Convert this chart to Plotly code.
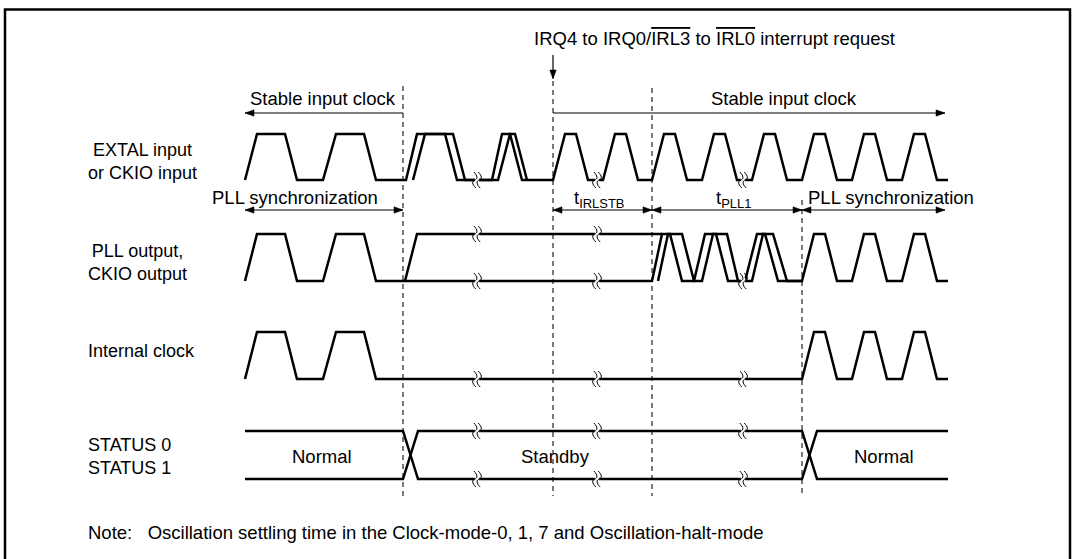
import plotly.graph_objects as go

# ---------------- data (time axis in diagram units, levels 0=low 1=high) ----------------
EXTAL_A_T = [245, 257, 285, 297, 323, 336, 364, 376, 406, 417, 445, 457, 492, 502, 510, 522,
             553, 565, 576, 588, 603, 615, 626, 638, 652, 664, 675, 687, 702, 714, 725, 737,
             752, 764, 775, 787, 802, 814, 825, 837, 852, 864, 875, 887, 902, 914, 925, 937, 948]
EXTAL_A_L = [0, 1, 1, 0, 0, 1, 1, 0, 0, 1, 1, 0, 0, 1, 1, 0,
             0, 1, 1, 0, 0, 1, 1, 0, 0, 1, 1, 0, 0, 1, 1, 0,
             0, 1, 1, 0, 0, 1, 1, 0, 0, 1, 1, 0, 0, 1, 1, 0, 0]
EXTAL_B_T = [413, 425, 453, 465, 498, 510, 515, 527]
EXTAL_B_L = [0, 1, 1, 0, 0, 1, 1, 0]

PLL_A_T = [245, 257, 285, 297, 323, 336, 364, 376, 652, 662, 670, 682, 694, 705, 716, 728,
           745, 757, 765, 778, 802, 814, 825, 837, 852, 864, 875, 887, 902, 914, 925, 937, 948]
PLL_A_L = [0, 1, 1, 0, 0, 1, 1, 0, 0, 1, 1, 0, 0, 1, 1, 0,
           0, 1, 1, 0, 0, 1, 1, 0, 0, 1, 1, 0, 0, 1, 1, 0, 0]
PLL_HOLD_T = [405, 417, 662]
PLL_HOLD_L = [0, 1, 1]
PLL_B_T = [658, 668, 682, 694, 702, 713, 727, 738, 752, 763, 773, 787, 802]
PLL_B_L = [0, 1, 1, 0, 0, 1, 1, 0, 0, 1, 1, 0, 0]

INT_T = [245, 257, 285, 297, 323, 336, 364, 376, 802, 814, 825, 837, 852, 864, 875, 887,
         902, 914, 925, 937, 948]
INT_L = [0, 1, 1, 0, 0, 1, 1, 0, 0, 1, 1, 0, 0, 1, 1, 0, 0, 1, 1, 0, 0]

STATUS_T = [245, 403, 418, 802, 817, 948]
STATUS0_L = [1, 1, 0, 0, 1, 1]
STATUS1_L = [0, 0, 1, 1, 0, 0]
STATUS_NAMES = ["Normal", "Standby", "Normal"]
STATUS_NAME_T = [322, 555, 884]

BREAK_T = [477, 597, 743]
EXTAL_BREAK_L = [[0], [0], [0]]
PLL_BREAK_L = [[0, 1], [0, 1], [0]]
INT_BREAK_L = [[0], [0], [0]]
STATUS_BREAK_L = [[0, 1], [0, 1], [0, 1]]

MARK_T = [403, 553, 652, 802]

# dimension arrows: (start, end, label, label position)
TOP_SPANS = [(403, 245, "Stable input clock", 323), (553, 945, "Stable input clock", 784)]
MID_SPANS = [(245, 403, "PLL synchronization", 295),
             (553, 652, "t<sub>IRLSTB</sub>", 599),
             (652, 802, "t<sub>PLL1</sub>", 733),
             (802, 945, "PLL synchronization", 891)]

ROW_LABELS = ["EXTAL input<br>or CKIO input", "PLL output,<br>CKIO output",
              "Internal clock", "STATUS 0<br>STATUS 1"]
IRQ_LABEL = ("IRQ4 to IRQ0/<span style=\"text-decoration:overline\">IRL3</span> to "
             "<span style=\"text-decoration:overline\">IRL0</span> interrupt request")
NOTE = "Note:\u00a0\u00a0\u00a0Oscillation settling time in the Clock-mode-0, 1, 7 and Oscillation-halt-mode"

# ---------------- layout (pixel geometry) ----------------
W, H = 1075, 559
ROWS = {"extal": (180, 134), "pll": (281, 234), "int": (379, 332), "status": (479, 431)}
ROW_LABEL_Y = [161, 262, 351, 456]
LABEL_X = 86
FONT = "Liberation Sans, Arial, sans-serif"
FS = 18.5
LW = 2.5
INK = "black"


def ys(row, levels):
    lo, hi = ROWS[row]
    return [lo - l * (lo - hi) for l in levels]


fig = go.Figure()


def wave(t, lv, row):
    fig.add_trace(go.Scatter(x=t, y=ys(row, lv), mode="lines",
                             line=dict(color=INK, width=LW), hoverinfo="skip"))


wave(EXTAL_A_T, EXTAL_A_L, "extal")
wave(EXTAL_B_T, EXTAL_B_L, "extal")
wave(PLL_A_T, PLL_A_L, "pll")
wave(PLL_HOLD_T, PLL_HOLD_L, "pll")
wave(PLL_B_T, PLL_B_L, "pll")
wave(INT_T, INT_L, "int")
wave(STATUS_T, STATUS0_L, "status")
wave(STATUS_T, STATUS1_L, "status")

shapes = []
annos = []

# frame
shapes.append(dict(type="rect", xref="x", yref="y", x0=5, y0=9.5, x1=1070, y1=600,
                   line=dict(color=INK, width=2.5), fillcolor="rgba(0,0,0,0)", layer="below"))

# dashed markers
MARK_TOP = [86, 81, 88, 200]
for t, top in zip(MARK_T, MARK_TOP):
    shapes.append(dict(type="line", xref="x", yref="y", x0=t, x1=t, y0=top, y1=496,
                       line=dict(color="#222", width=1.2, dash="5px,4px"), layer="below"))


# breaks
def add_break(x, y):
    c1, c2 = x - 2.2, x + 2.2
    shapes.append(dict(type="rect", xref="x", yref="y", x0=c1, x1=c2, y0=y - 3, y1=y + 3,
                       fillcolor="white", line=dict(width=0), layer="above"))
    for c in (c1, c2):
        p = f"M {c-1},{y-8} C {c+3},{y-4} {c+3},{y-1} {c},{y} C {c-3},{y+1} {c-3},{y+4} {c+1},{y+8}"
        shapes.append(dict(type="path", xref="x", yref="y", path=p,
                           line=dict(color=INK, width=1), layer="above"))


for row, bl in (("extal", EXTAL_BREAK_L), ("pll", PLL_BREAK_L),
                ("int", INT_BREAK_L), ("status", STATUS_BREAK_L)):
    for t, levels in zip(BREAK_T, bl):
        for l in levels:
            add_break(t, ys(row, [l])[0])


# arrows
def head(x, y, d, horizontal=True):
    if horizontal:
        p = f"M {x},{y} L {x-d*9},{y-3.2} L {x-d*9},{y+3.2} Z"
    else:
        p = f"M {x},{y} L {x-3.2},{y-d*9} L {x+3.2},{y-d*9} Z"
    shapes.append(dict(type="path", xref="x", yref="y", path=p, fillcolor=INK,
                       line=dict(color=INK, width=0.5), layer="above"))


def text(x, y, s, anchor="center", size=FS):
    annos.append(dict(x=x, y=y, xref="x", yref="y", text=s, showarrow=False,
                      xanchor=anchor, yanchor="middle",
                      font=dict(family=FONT, size=size, color=INK)))


for a, b, lab, lx in TOP_SPANS:
    y = 113
    shapes.append(dict(type="line", xref="x", yref="y", x0=a, x1=b, y0=y, y1=y,
                       line=dict(color=INK, width=1.2)))
    head(b, y, 1 if b > a else -1)
    text(lx, 98, lab)

for a, b, lab, lx in MID_SPANS:
    y = 210
    shapes.append(dict(type="line", xref="x", yref="y", x0=a, x1=b, y0=y, y1=y,
                       line=dict(color=INK, width=1.2)))
    head(b, y, 1)
    head(a, y, -1)
    text(lx, 197 if "sub" not in lab else 199, lab)

# interrupt request arrow
shapes.append(dict(type="line", xref="x", yref="y", x0=MARK_T[1], x1=MARK_T[1], y0=55, y1=78,
                   line=dict(color=INK, width=1.2)))
head(MARK_T[1], 79, 1, horizontal=False)
text(532, 38, IRQ_LABEL, anchor="left")

for lab, y in zip(ROW_LABELS, ROW_LABEL_Y):
    text(LABEL_X, y, lab, anchor="left", size=18)

for s, t in zip(STATUS_NAMES, STATUS_NAME_T):
    text(t, 456, s)

text(86, 532, NOTE, anchor="left")

fig.update_layout(
    width=W, height=H, margin=dict(l=0, r=0, t=0, b=0),
    xaxis=dict(range=[0, W], visible=False, fixedrange=True),
    yaxis=dict(range=[H, 0], visible=False, fixedrange=True),
    plot_bgcolor="white", paper_bgcolor="white", showlegend=False,
    shapes=shapes, annotations=annos,
)

fig.write_html("out.html", config={"displayModeBar": False},
               post_script="document.body.style.margin='0';document.body.style.overflow='hidden';")
